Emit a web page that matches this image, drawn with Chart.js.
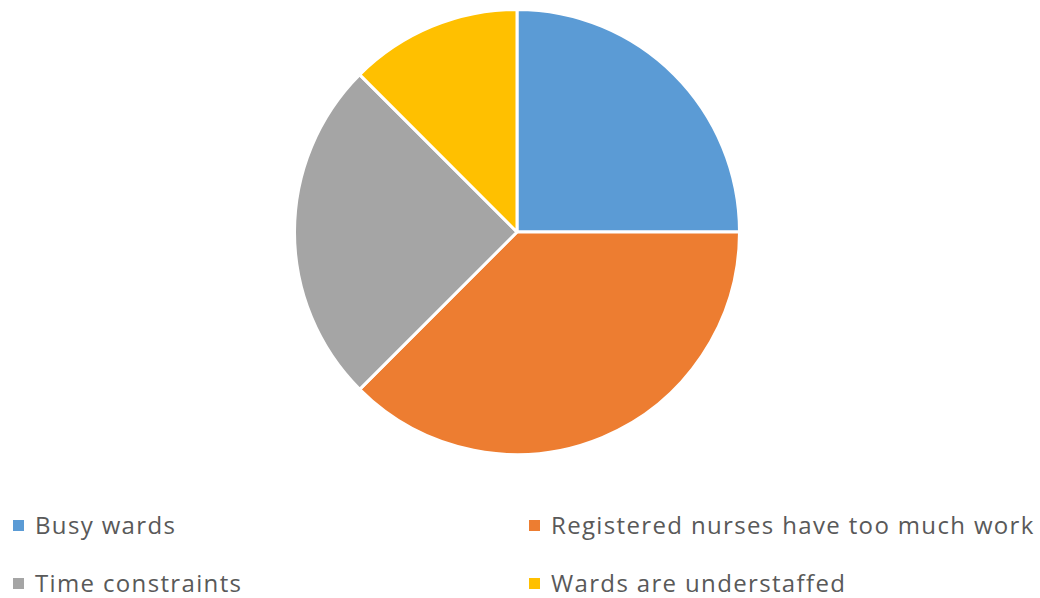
<!DOCTYPE html>
<html>
<head>
<meta charset="utf-8">
<script src="https://cdn.jsdelivr.net/npm/chart.js@4"></script>
<style>
  html, body { margin: 0; padding: 0; background: #ffffff; }
  #wrap { position: relative; width: 1040px; height: 598px; overflow: hidden; }
  #pieBox { position: absolute; left: 0; top: 0; width: 1040px; height: 464px; }
  #legend { position: absolute; left: 0; top: 500px; width: 1040px; height: 98px;
            font-family: "Open Sans", "Noto Sans", sans-serif; font-size: 24px;
            letter-spacing: 1.35px; color: #595959; }
  .item { position: absolute; display: flex; align-items: center; white-space: nowrap; line-height: 30px; }
  .swatch { width: 11px; height: 11px; margin-right: 11px; flex: none; }
</style>
</head>
<body>
<div id="wrap">
  <div id="pieBox"><canvas id="pie"></canvas></div>
  <div id="legend"></div>
</div>
<script>
// Reasons given, with their share of responses
const categories = [
  'Busy wards',
  'Registered nurses have too much work',
  'Time constraints',
  'Wards are understaffed'
];
const responses = [2, 3, 2, 1];
const sliceColors = ['#5B9BD5', '#ED7D31', '#A5A5A5', '#FFC000'];

const chart = new Chart(document.getElementById('pie'), {
  type: 'pie',
  data: {
    labels: categories,
    datasets: [{
      data: responses,
      backgroundColor: sliceColors,
      borderColor: '#ffffff',
      borderWidth: 3
    }]
  },
  options: {
    responsive: true,
    maintainAspectRatio: false,
    animation: false,
    layout: { padding: { top: 8, bottom: 8, left: 0, right: 6 } },
    plugins: {
      legend: { display: false },
      tooltip: { enabled: false }
    }
  }
});

// Two-column legend beneath the pie
const legend = document.getElementById('legend');
const slots = [
  { left: 13, top: 10 },
  { left: 529, top: 10 },
  { left: 13, top: 68 },
  { left: 529, top: 68 }
];
categories.forEach((name, i) => {
  const item = document.createElement('div');
  item.className = 'item';
  item.style.left = slots[i].left + 'px';
  item.style.top = slots[i].top + 'px';
  const sw = document.createElement('span');
  sw.className = 'swatch';
  sw.style.background = sliceColors[i];
  const tx = document.createElement('span');
  tx.textContent = name;
  item.appendChild(sw);
  item.appendChild(tx);
  legend.appendChild(item);
});
</script>
</body>
</html>
